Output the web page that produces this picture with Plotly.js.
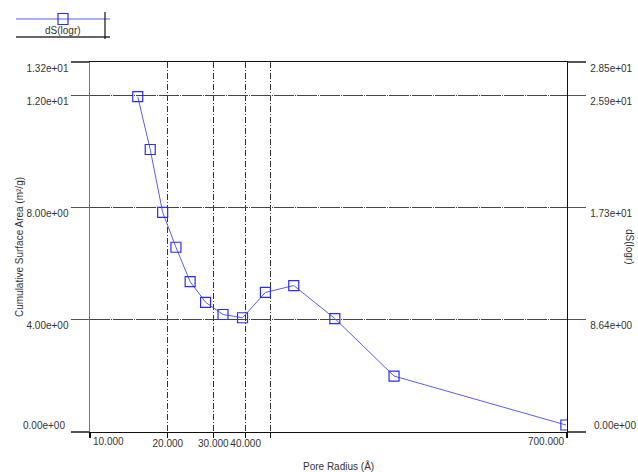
<!DOCTYPE html>
<html>
<head>
<meta charset="utf-8">
<script src="https://cdn.plot.ly/plotly-3.0.1.min.js"></script>
<style>html,body{margin:0;padding:0;background:#fff;}#chart{width:638px;height:472px;}</style>
</head>
<body>
<div id="chart"></div>
<script>
// ---- data ----
const poreRadius = [15.3, 17.1, 19.1, 21.5, 24.4, 28.0, 32.7, 38.9, 47.7, 61.4, 88.5, 150, 693];
const dSlogr = [25.83, 21.76, 16.92, 14.23, 11.58, 9.99, 9.05, 8.80, 10.75, 11.28, 8.74, 4.31, 0.54];
const seriesName = "dS(logr)";

const xTickVals = [10, 20, 30, 40, 50, 700];
const xTickLabels = ["10.000", "20.000", "30.000", "40.000", "", "700.000"];
const leftTickVals = [0, 4, 8, 12, 13.2];
const leftTickLabels = ["0.00e+00", "4.00e+00", "8.00e+00", "1.20e+01", "1.32e+01"];
const rightTickVals = [0, 8.64, 17.27, 25.91, 28.5];
const rightTickLabels = ["0.00e+00", "8.64e+00", "1.73e+01", "2.59e+01", "2.85e+01"];
const xTitle = "Pore Radius (Å)";
const leftTitle = "Cumulative Surface Area (m²/g)";
const rightTitle = "dS(logr)";

// ---- layout helpers ----
const W = 638, H = 472;
const M = {l: 90, r: 71, t: 62, b: 40};
const PW = W - M.l - M.r, PH = H - M.t - M.b;
const px = v => (v - M.l) / PW;
const py = v => (H - M.b - v) / PH;

const font = {family: "Liberation Sans, Arial, sans-serif", size: 10, color: "#333"};
const blue = "#2b2bff";

const traces = [
  {x: [], y: [], xaxis: "x", yaxis: "y", showlegend: false, hoverinfo: "skip"},
  {
    x: poreRadius, y: dSlogr, name: seriesName, xaxis: "x", yaxis: "y2",
    mode: "lines+markers", showlegend: false,
    line: {color: "#5a5aff", width: 1},
    marker: {symbol: "square-open", size: 10, color: blue, line: {width: 1.2, color: blue}}
  }
];

const annotations = [
  {xref: "x", yref: "paper", x: Math.log10(xTickVals[0]), y: 0, yshift: -2, xanchor: "left", yanchor: "top",
   text: xTickLabels[0], showarrow: false, font: font, xshift: 1},
  {xref: "x", yref: "paper", x: Math.log10(xTickVals[5]), y: 0, yshift: -2, xanchor: "right", yanchor: "top",
   text: xTickLabels[5], showarrow: false, font: font},
  {xref: "paper", yref: "y", x: 0, y: leftTickVals[0], xshift: -23, yshift: 7, xanchor: "right", yanchor: "middle",
   text: leftTickLabels[0], showarrow: false, font: font},
  {xref: "paper", yref: "y2", x: 1, y: rightTickVals[0], xshift: 25, yshift: 7, xanchor: "left", yanchor: "middle",
   text: rightTickLabels[0], showarrow: false, font: font},
  {xref: "paper", yref: "paper", x: px(630), y: 0.5, xanchor: "center", yanchor: "middle",
   text: rightTitle, textangle: 90, showarrow: false, font: font},
  {xref: "paper", yref: "paper", x: px(338), y: py(466), xanchor: "center", yanchor: "middle",
   text: xTitle, showarrow: false, font: font},
  {xref: "paper", yref: "paper", x: px(63), y: py(31), xanchor: "center", yanchor: "middle",
   text: seriesName, showarrow: false, font: font}
];

const shapes = [
  {type: "line", xref: "paper", yref: "paper", x0: px(16), x1: px(110), y0: py(19), y1: py(19),
   line: {color: "#5a5aff", width: 1}},
  {type: "rect", xref: "paper", yref: "paper", x0: px(58), x1: px(68), y0: py(13.5), y1: py(24.5),
   line: {color: blue, width: 1.2}, fillcolor: "rgba(0,0,0,0)"},
  {type: "line", xref: "paper", yref: "paper", x0: px(16), x1: px(110), y0: py(37), y1: py(37),
   line: {color: "#666", width: 2}},
  {type: "line", xref: "paper", yref: "paper", x0: px(105), x1: px(105), y0: py(12), y1: py(39),
   line: {color: "#111", width: 1.2}}
];

const layout = {
  width: W, height: H,
  margin: M,
  paper_bgcolor: "#fff", plot_bgcolor: "#fff",
  font: font,
  showlegend: false,
  xaxis: {
    type: "log", range: [Math.log10(xTickVals[0]), Math.log10(xTickVals[5])],
    tickmode: "array", tickvals: xTickVals,
    ticktext: xTickLabels.map((t, i) => (i === 0 || i === 5) ? "" : t),
    tickangle: 0,
    ticks: "outside", ticklen: 5, tickcolor: "#111", tickwidth: 1.2,
    showline: true, linecolor: "#111", linewidth: 1.2, mirror: true,
    showgrid: true, gridcolor: "#333", gridwidth: 1, griddash: "6px,2px,1px,2px",
    zeroline: false, automargin: false, tickfont: font,
    ticklabelstandoff: -3
  },
  yaxis: {
    range: [0, 13.2], tickmode: "array", tickvals: leftTickVals,
    ticktext: leftTickLabels.map((t, i) => i === 0 ? "" : t),
    ticks: "outside", ticklen: 18, tickcolor: "#555", tickwidth: 1.2,
    showline: true, linecolor: "#777", linewidth: 1.5,
    showgrid: true, gridcolor: "#444", gridwidth: 1, griddash: "20px,1px,1px,1px",
    zeroline: false, automargin: false, tickfont: font,
    ticklabelshift: 6,
    title: {text: leftTitle, font: font, standoff: 1}
  },
  yaxis2: {
    overlaying: "y", side: "right", anchor: "x",
    range: [0, 28.5], tickmode: "array", tickvals: rightTickVals,
    ticktext: rightTickLabels.map((t, i) => i === 0 ? "" : t),
    ticks: "outside", ticklen: 18, tickcolor: "#555", tickwidth: 1.2,
    showline: true, linecolor: "#111", linewidth: 1.2,
    showgrid: false, zeroline: false, automargin: false, tickfont: font,
    ticklabelshift: 6, ticklabelstandoff: 2
  },
  annotations: annotations,
  shapes: shapes
};

Plotly.newPlot("chart", traces, layout, {displayModeBar: false, staticPlot: true});
</script>
</body>
</html>
